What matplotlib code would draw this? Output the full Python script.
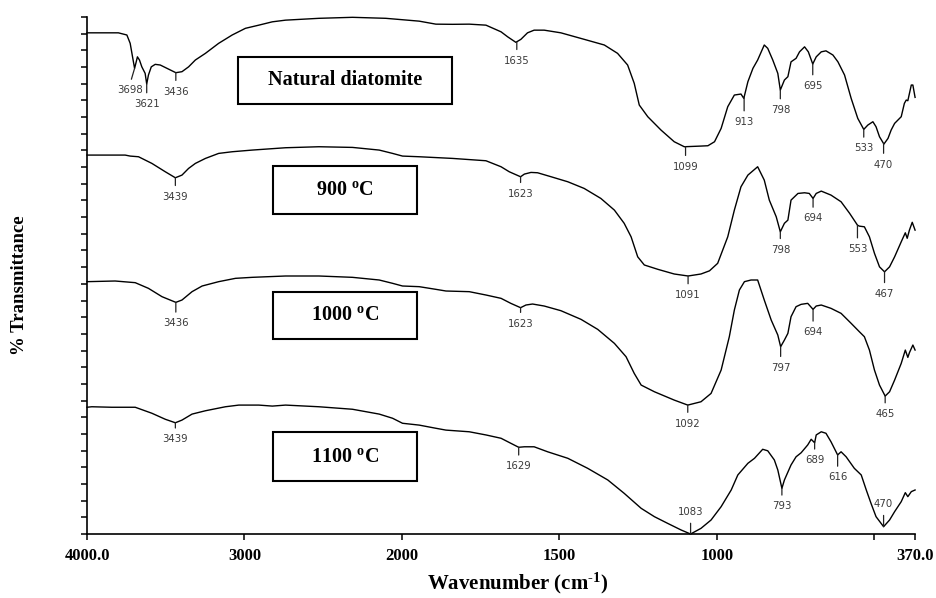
import numpy as np
import matplotlib
matplotlib.use("Agg")
import matplotlib.pyplot as plt
from matplotlib.patches import Rectangle

# stacked FTIR spectra (wavenumber in cm-1, transmittance in stacked arbitrary units)
wn_nat = [4000, 3801, 3747, 3726, 3711, 3698, 3690, 3680, 3667, 3652, 3631, 3621, 3610, 3592, 3567,
          3535, 3492, 3436, 3397, 3355, 3312, 3248, 3164, 3078, 2994, 2909, 2823, 2739, 2527, 2314,
          2102, 1945, 1892, 1839, 1786, 1733, 1685, 1664, 1638, 1622, 1601, 1580, 1548, 1495, 1421,
          1357, 1315, 1283, 1262, 1246, 1219, 1177, 1135, 1103, 1050, 1028, 1007, 986, 965, 944,
          923, 914, 901, 885, 870, 849, 838, 822, 806, 798, 785, 774, 764, 748, 737,
          721, 709, 695, 684, 668, 653, 631, 615, 594, 573, 552, 533, 520, 504, 494,
          483, 469, 456, 446, 435, 414, 404, 398, 393, 382, 377, 370]
t_nat = [30.05, 30.05, 29.92, 29.42, 28.61, 27.92, 28.22, 28.61, 28.42, 28.01, 27.62, 26.98, 27.52, 28.01, 28.16,
         28.12, 27.92, 27.66, 27.72, 28.01, 28.42, 28.82, 29.42, 29.92, 30.32, 30.51, 30.71, 30.81, 30.92, 30.98,
         30.92, 30.75, 30.57, 30.56, 30.57, 30.51, 30.11, 29.81, 29.48, 29.66, 30.05, 30.21, 30.21, 30.05, 29.66,
         29.32, 28.82, 28.12, 27.02, 25.72, 25.02, 24.22, 23.52, 23.22, 23.26, 23.28, 23.52, 24.32, 25.62, 26.32,
         26.38, 26.12, 27.12, 27.92, 28.42, 29.32, 29.12, 28.42, 27.62, 26.62, 27.22, 27.42, 28.31, 28.52, 28.91,
         29.21, 28.91, 28.18, 28.61, 28.91, 28.97, 28.72, 28.31, 27.52, 26.12, 24.92, 24.26, 24.52, 24.72, 24.42,
         23.82, 23.38, 23.72, 24.22, 24.62, 25.02, 25.82, 26.02, 25.98, 26.92, 26.92, 26.18]

wn_900 = [4000, 3758, 3726, 3673, 3588, 3503, 3439, 3397, 3355, 3312, 3248, 3164, 3078, 2951, 2739,
          2527, 2314, 2144, 2059, 1998, 1945, 1839, 1733, 1685, 1659, 1623, 1611, 1590, 1569, 1526,
          1473, 1421, 1368, 1325, 1294, 1272, 1251, 1230, 1187, 1135, 1091, 1050, 1023, 997, 965,
          944, 923, 901, 870, 849, 833, 811, 798, 785, 774, 764, 742, 721, 706, 694,
          684, 668, 637, 605, 578, 553, 547, 531, 515, 499, 483, 467, 451, 435, 414,
          401, 395, 388, 379, 370]
t_900 = [22.72, 22.72, 22.66, 22.62, 22.22, 21.72, 21.36, 21.52, 21.92, 22.22, 22.52, 22.82, 22.92, 23.02, 23.16,
         23.22, 23.18, 23.02, 22.82, 22.66, 22.62, 22.52, 22.38, 22.02, 21.72, 21.42, 21.58, 21.68, 21.66, 21.42,
         21.12, 20.72, 20.12, 19.42, 18.63, 17.82, 16.62, 16.13, 15.87, 15.59, 15.47, 15.59, 15.78, 16.23, 17.82,
         19.42, 20.82, 21.52, 22.02, 21.22, 20.02, 19.02, 18.12, 18.63, 18.82, 20.02, 20.42, 20.46, 20.42, 20.12,
         20.42, 20.56, 20.32, 19.92, 19.23, 18.52, 18.46, 18.42, 17.82, 16.83, 16.02, 15.72, 16.02, 16.62, 17.52,
         18.06, 17.73, 18.22, 18.69, 18.22]

wn_1000 = [4000, 3822, 3694, 3610, 3524, 3436, 3397, 3333, 3269, 3164, 3057, 2951, 2845, 2739, 2527,
           2314, 2144, 2059, 1998, 1945, 1892, 1860, 1786, 1733, 1685, 1654, 1623, 1606, 1585, 1548,
           1495, 1431, 1378, 1325, 1288, 1262, 1240, 1198, 1135, 1092, 1050, 1018, 986, 960, 944,
           928, 912, 891, 870, 849, 827, 806, 797, 785, 774, 764, 748, 732, 711, 694,
           684, 668, 637, 605, 573, 547, 531, 515, 499, 483, 465, 451, 435, 414, 401,
           393, 388, 377, 370]
t_1000 = [15.13, 15.17, 15.07, 14.73, 14.23, 13.89, 14.03, 14.53, 14.87, 15.13, 15.33, 15.39, 15.43, 15.47, 15.47,
          15.39, 15.23, 15.03, 14.87, 14.83, 14.67, 14.57, 14.53, 14.33, 14.13, 13.83, 13.57, 13.73, 13.79, 13.67,
          13.39, 12.87, 12.27, 11.43, 10.63, 9.63, 8.93, 8.53, 8.03, 7.73, 7.93, 8.43, 9.83, 11.83, 13.43,
          14.63, 15.13, 15.23, 15.23, 14.03, 12.83, 11.93, 11.23, 11.63, 12.03, 13.03, 13.63, 13.77, 13.83, 13.47,
          13.67, 13.73, 13.53, 13.23, 12.63, 12.13, 11.83, 11.03, 9.83, 8.93, 8.27, 8.53, 9.23, 10.23, 11.03,
          10.59, 10.87, 11.33, 11.03]

wn_1100 = [4000, 3970, 3843, 3694, 3588, 3503, 3439, 3397, 3333, 3248, 3121, 3036, 2909, 2823, 2739,
           2527, 2314, 2144, 2059, 1998, 1945, 1892, 1860, 1786, 1733, 1685, 1654, 1629, 1611, 1580,
           1537, 1473, 1410, 1346, 1294, 1240, 1198, 1156, 1113, 1083, 1050, 1018, 986, 954, 933,
           901, 880, 854, 838, 817, 806, 793, 785, 764, 748, 732, 711, 700, 689, 684,
           668, 653, 637, 621, 616, 605, 589, 563, 541, 525, 510, 494, 470, 451, 435,
           414, 401, 393, 382, 370]
t_1100 = [7.60, 7.63, 7.60, 7.60, 7.24, 6.88, 6.67, 6.83, 7.19, 7.39, 7.63, 7.73, 7.73, 7.67, 7.73,
          7.63, 7.48, 7.19, 6.94, 6.64, 6.53, 6.34, 6.23, 6.13, 5.94, 5.74, 5.44, 5.20, 5.23, 5.23,
          4.93, 4.54, 3.94, 3.24, 2.44, 1.54, 1.04, 0.64, 0.24, 0.0, 0.34, 0.84, 1.64, 2.64, 3.54,
          4.24, 4.54, 5.08, 4.99, 4.44, 3.84, 2.74, 3.24, 4.14, 4.63, 4.87, 5.34, 5.68, 5.47, 5.94,
          6.13, 6.04, 5.53, 4.93, 4.74, 4.93, 4.63, 3.94, 3.54, 2.64, 1.84, 1.04, 0.44, 0.84, 1.34,
          1.94, 2.48, 2.24, 2.54, 2.64]

sample_names = ["Natural diatomite", "900 $^{\\mathbf{o}}$C", "1000 $^{\\mathbf{o}}$C", "1100 $^{\\mathbf{o}}$C"]

# labelled bands of each spectrum
peaks_nat = [3698, 3621, 3436, 1635, 1099, 913, 798, 695, 533, 470]
peaks_900 = [3439, 1623, 1091, 798, 694, 553, 467]
peaks_1000 = [3436, 1623, 1092, 797, 694, 465]
peaks_1100 = [3439, 1629, 1083, 793, 689, 616, 470]

# label drop below the curve in pixels (negative = label above)
drops_nat = [17, 15, 14, 14, 15, 20, 15, 17, 14, 16]
drops_900 = [14, 12, 14, 13, 15, 19, 17]
drops_1000 = [16, 11, 13.5, 16, 18, 13]
drops_1100 = [11.5, 14, -17, 13, 12.5, 17.5, -17.5]

xticks = [4000, 3000, 2000, 1500, 1000, 500, 370]
xtick_labels = ["4000.0", "3000", "2000", "1500", "1000", "", "370.0"]

plt.rcParams["mathtext.fontset"] = "custom"
plt.rcParams["mathtext.rm"] = "Liberation Serif:bold"
plt.rcParams["mathtext.bf"] = "Liberation Serif:bold"
plt.rcParams["mathtext.it"] = "Liberation Serif:bold"


def fwd(w):
    w = np.asarray(w, dtype=float)
    return np.where(w > 2000, 2000 + (w - 2000) / 2.0, w)


def inv(u):
    u = np.asarray(u, dtype=float)
    return np.where(u > 2000, 2000 + (u - 2000) * 2.0, u)


fig = plt.figure(figsize=(9.37, 5.98), dpi=100)
ax = fig.add_axes([0.0929, 0.1070, 0.8837, 0.8646])
ax.set_xscale("function", functions=(fwd, inv))

curves = [(wn_nat, t_nat), (wn_900, t_900), (wn_1000, t_1000), (wn_1100, t_1100)]
for wn, t in curves:
    ax.plot(wn, t, color="black", lw=1.0, clip_on=False)

px = 0.72  # points per pixel at 100 dpi
groups = [(peaks_nat, drops_nat, 0), (peaks_900, drops_900, 1),
          (peaks_1000, drops_1000, 2), (peaks_1100, drops_1100, 3)]
for peaks, drops, i in groups:
    wn, t = curves[i]
    for p, d in zip(peaks, drops):
        y = np.interp(p, wn[::-1], t[::-1])
        dx = -5 * px if p == 3698 else 0
        if d > 0:
            va, rel, off = "top", (0.5, 1), -d * px
        else:
            va, rel, off = "bottom", (0.5, 0), -d * px
        ax.annotate(str(p), xy=(p, y), xytext=(dx, off), textcoords="offset points",
                    ha="center", va=va, fontsize=7.3, color="#3a3a3a",
                    family="DejaVu Sans",
                    arrowprops=dict(arrowstyle="-", lw=0.9, color="#222222",
                                    shrinkA=2.5, shrinkB=0, relpos=rel))

# sample boxes (axes fraction)
boxes = [(0.182, 0.8317, 0.2585, 0.0915), (0.225, 0.619, 0.173, 0.093),
         (0.225, 0.3766, 0.173, 0.0921), (0.225, 0.103, 0.173, 0.0937)]
for (x0, y0, w, h), name in zip(boxes, sample_names):
    ax.add_patch(Rectangle((x0, y0), w, h, transform=ax.transAxes, fc="white",
                           ec="black", lw=1.5, zorder=3))
    ax.text(x0 + w / 2, y0 + h / 2, name, transform=ax.transAxes, ha="center",
            va="center", fontsize=14.5, fontweight="bold", family="Liberation Serif", zorder=4)

ax.set_xlim(4000, 370)
ax.set_ylim(0, 31)
ax.set_xticks(xticks)
ax.set_xticklabels(xtick_labels, fontsize=12, fontweight="bold", family="Liberation Serif")
ax.set_yticks(np.arange(0, 32))
ax.set_yticklabels([])
ax.tick_params(axis="x", direction="out", length=4, width=1.1, pad=6)
ax.tick_params(axis="y", direction="out", length=4, width=1.1)
ax.minorticks_off()
for s in ["top", "right"]:
    ax.spines[s].set_visible(False)
for s in ["left", "bottom"]:
    ax.spines[s].set_linewidth(1.2)

fig.text(0.0213, 0.523, "% Transmittance", rotation=90, ha="center", va="center",
         fontsize=13.5, fontweight="bold", family="Liberation Serif")
fig.text(0.552, 0.025, "Wavenumber (cm$^{\\text{-1}}$)", ha="center", va="center",
         fontsize=15, fontweight="bold", family="Liberation Serif")

fig.savefig("out.png", dpi=100)
